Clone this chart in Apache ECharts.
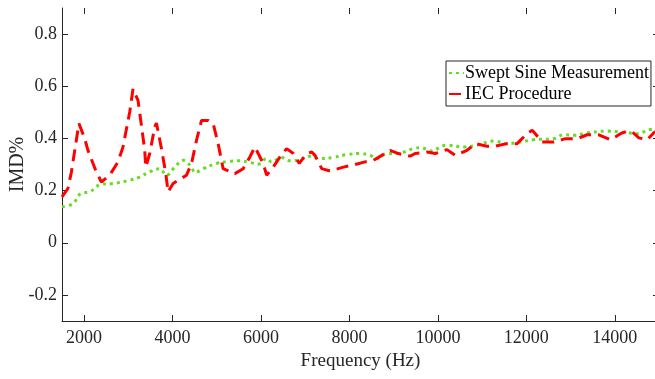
<!DOCTYPE html>
<html>
<head>
<meta charset="utf-8">
<script src="https://cdn.jsdelivr.net/npm/echarts@6/dist/echarts.min.js"></script>
<style>
html,body{margin:0;padding:0;background:#fff;}
#chart{width:655px;height:379px;}
</style>
</head>
<body>
<div id="chart"></div>
<script>
// Data
const sweptFreq = [1500,1747,1937,2125,2277,2352,2653,3031,3258,3484,3711,3862,4050,4238,4429,4503,4691,4995,5296,5520,5749,5930,6127,6241,6467,6655,6882,7108,7335,7629,7939,8241,8467,8619,8845,9072,9448,9638,9826,10204,10580,10884,11260,11563,11865,12166,12619,12845,13072,13375,13828,14281,14508,14809,15000];
const sweptVal  = [0.138,0.15,0.19,0.195,0.214,0.223,0.227,0.24,0.252,0.272,0.284,0.259,0.29,0.316,0.29,0.269,0.284,0.304,0.312,0.314,0.308,0.301,0.323,0.31,0.327,0.314,0.319,0.332,0.323,0.327,0.338,0.342,0.335,0.323,0.342,0.342,0.361,0.364,0.352,0.374,0.367,0.374,0.39,0.38,0.386,0.395,0.399,0.414,0.412,0.421,0.428,0.422,0.418,0.434,0.435];

const iecFreq = [1500,1634,1711,1824,1883,2012,2087,2261,2390,2578,2766,2879,3031,3106,3219,3296,3371,3394,3484,3597,3636,3749,3847,3899,4012,4315,4429,4542,4655,4805,4918,5031,5144,5409,5597,5749,5862,5937,6050,6127,6277,6429,6580,6730,6866,7033,7147,7221,7373,7561,7862,8053,8354,8542,8732,8920,9108,9373,9486,9751,9939,10204,10392,10657,10845,11110,11298,11563,11790,12016,12130,12204,12356,12619,12884,13149,13375,13638,13903,14130,14281,14395,14544,14734,14884,15000];
const iecVal  = [0.176,0.208,0.27,0.393,0.457,0.4,0.354,0.278,0.233,0.259,0.31,0.367,0.501,0.59,0.546,0.45,0.354,0.29,0.342,0.444,0.459,0.361,0.265,0.195,0.227,0.259,0.304,0.393,0.469,0.469,0.457,0.38,0.284,0.265,0.284,0.329,0.367,0.342,0.304,0.259,0.29,0.329,0.361,0.342,0.304,0.342,0.348,0.335,0.284,0.275,0.29,0.297,0.31,0.316,0.335,0.354,0.342,0.332,0.342,0.348,0.342,0.357,0.335,0.354,0.38,0.37,0.37,0.38,0.38,0.418,0.431,0.418,0.386,0.386,0.399,0.399,0.414,0.414,0.395,0.418,0.428,0.425,0.402,0.395,0.422,0.43];

const xTicks = [2000,4000,6000,8000,10000,12000,14000];
const yTicks = [-0.2,0,0.2,0.4,0.6,0.8];
const seriesNames = ['Swept Sine Measurement','IEC Procedure'];
const xTitle = 'Frequency (Hz)';
const yTitle = 'IMD%';

const FONT = 'Liberation Serif';
const AX = '#262626';
const GREEN = '#66dd22';
const RED = '#ff0000';

function zip(a,b){return a.map((v,i)=>[v,b[i]]);}

const chart = echarts.init(document.getElementById('chart'), null, {renderer:'canvas'});
const baseX = {
  type:'value', min:1500, max:15000,
  splitLine:{show:false}
};
const baseY = {
  type:'value', min:-0.3, max:0.9,
  splitLine:{show:false}
};
const hiddenLine = {show:true, onZero:false, lineStyle:{color:'rgba(0,0,0,0)', width:1}};
chart.setOption({
  backgroundColor:'#fff',
  animation:false,
  textStyle:{fontFamily:FONT},
  grid:{left:62, right:-4, top:8, bottom:58, containLabel:false, outerBoundsMode:'none'},
  legend:{
    orient:'vertical', left:446, top:61,
    padding:[3,2,3,2], itemGap:3,
    itemWidth:15, itemHeight:8,
    borderColor:AX, borderWidth:1, backgroundColor:'#fff',
    itemStyle:{opacity:0},
    textStyle:{fontFamily:FONT, fontSize:18, color:'#000', padding:[0,0,0,-4]},
    data:seriesNames
  },
  xAxis:[
    Object.assign({}, baseX, {
      position:'bottom',
      name:xTitle, nameLocation:'middle', nameGap:31, nameMoveOverlap:false,
      nameTextStyle:{fontFamily:FONT, fontSize:19, color:AX},
      axisLine:{show:true, onZero:false, lineStyle:{color:AX, width:1}},
      axisTick:{show:true, inside:true, length:6, customValues:xTicks, lineStyle:{color:AX}},
      axisLabel:{show:true, margin:8, customValues:xTicks, fontFamily:FONT, fontSize:18, color:AX,
        formatter:v=>String(v)}
    }),
    Object.assign({}, baseX, {
      position:'top',
      axisLine:hiddenLine,
      axisTick:{show:true, inside:true, length:6, customValues:xTicks, lineStyle:{color:AX, width:1}},
      axisLabel:{show:false, customValues:xTicks}
    })
  ],
  yAxis:[
    Object.assign({}, baseY, {
      position:'left',
      name:yTitle, nameLocation:'middle', nameGap:34, nameRotate:90, nameMoveOverlap:false,
      nameTextStyle:{fontFamily:FONT, fontSize:20, color:AX},
      axisLine:{show:true, onZero:false, lineStyle:{color:AX, width:1}},
      axisTick:{show:true, inside:true, length:6, customValues:yTicks, lineStyle:{color:AX}},
      axisLabel:{show:true, margin:5, customValues:yTicks, fontFamily:FONT, fontSize:18, color:AX,
        formatter:v=>(Math.abs(v)<1e-9?'0':Number(v).toFixed(1))}
    }),
    Object.assign({}, baseY, {
      position:'right',
      axisLine:hiddenLine,
      axisTick:{show:true, inside:true, length:6, customValues:yTicks, lineStyle:{color:AX, width:1}},
      axisLabel:{show:false, customValues:yTicks}
    })
  ],
  series:[
    {
      name:seriesNames[0], type:'line', xAxisIndex:0, yAxisIndex:0,
      data:zip(sweptFreq, sweptVal), showSymbol:false, symbol:'none', smooth:0.4,
      lineStyle:{color:GREEN, width:3, type:[3,4], cap:'butt'},
      itemStyle:{color:GREEN}
    },
    {
      name:seriesNames[1], type:'line', xAxisIndex:0, yAxisIndex:0,
      data:zip(iecFreq, iecVal), showSymbol:false, symbol:'none', smooth:false,
      lineStyle:{color:RED, width:3, type:[12,7], cap:'butt'},
      itemStyle:{color:RED}
    }
  ]
});
</script>
</body>
</html>
